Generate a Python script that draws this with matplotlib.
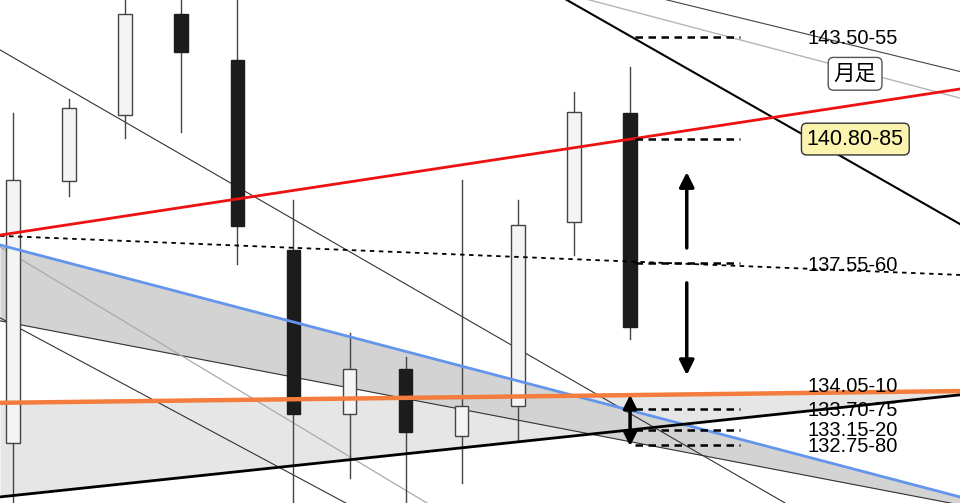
import matplotlib
matplotlib.use("Agg")
import matplotlib.pyplot as plt
import numpy as np

# monthly candles (index, open, high, low, close)
opens = [132.80, 139.71, 141.44, 144.11, 142.89, 137.89, 133.57, 134.75, 132.99, 133.78, 138.63, 141.50]
highs = [141.50, 141.87, 144.80, 144.80, 145.00, 139.20, 135.70, 135.07, 139.73, 139.20, 142.05, 142.71]
lows = [130.77, 139.31, 140.84, 141.00, 137.52, 130.50, 131.88, 131.00, 131.75, 132.88, 137.76, 135.54]
closes = [139.73, 141.63, 144.11, 143.10, 138.52, 133.57, 134.75, 133.09, 133.78, 138.55, 141.52, 135.86]

# trend lines: (x0, y0, x1, y1) in candle index / price
red_line = (-0.23, 138.28, 16.88, 142.13)
dotted_line = (-0.23, 138.26, 16.88, 137.23)
blue_line = (-0.23, 138.02, 16.88, 131.38)
orange_line = (-0.23, 133.86, 16.88, 134.17)
black_line = (-0.23, 131.38, 16.88, 134.07)
band_low_line = (-0.23, 136.02, 16.88, 131.17)
thin_a = (-0.23, 143.16, 16.88, 128.56)
thin_b = (-0.23, 136.10, 16.88, 122.55)
gray_c = (-0.23, 137.97, 16.88, 122.79)
thick_d = (-0.23, 152.99, 16.88, 138.57)
gray_e = (-0.23, 148.59, 16.88, 141.89)
thin_f = (-0.23, 148.77, 16.88, 142.59)

# price levels and labels
levels = [143.50, 140.80, 137.55, 133.70, 133.15, 132.75]
label_texts = ["143.50-55", "140.80-85", "137.55-60", "134.05-10", "133.70-75", "133.15-20", "132.75-80"]
label_y = [143.47, 140.81, 137.49, 134.28, 133.67, 133.14, 132.72]


def seg(line):
    x0, y0, x1, y1 = line
    return [x0, x1], [y0, y1]


fig = plt.figure(figsize=(9.6, 5.03), dpi=100)
ax = fig.add_axes([0, 0, 1, 1])
ax.set_xlim(-0.23, 16.88)
ax.set_ylim(131.22, 144.475)
ax.axis("off")

xs = np.array([-0.23, 16.88])
# shaded bands
ax.fill_between(xs, [orange_line[1], orange_line[3]], [black_line[1], black_line[3]],
                color="#e6e6e6", lw=0, zorder=1)
ax.fill_between(xs, [blue_line[1], blue_line[3]], [band_low_line[1], band_low_line[3]],
                color="#d3d3d3", lw=0, zorder=1.5)

# thin trend lines
ax.plot(*seg(band_low_line), color="#333333", lw=0.8, zorder=2)
ax.plot(*seg(thin_a), color="#333333", lw=0.8, zorder=2)
ax.plot(*seg(thin_b), color="#333333", lw=0.8, zorder=2)
ax.plot(*seg(gray_c), color="#aaaaaa", lw=0.9, zorder=2)
ax.plot(*seg(thick_d), color="black", lw=1.5, zorder=2)
ax.plot(*seg(gray_e), color="#b5b5b5", lw=1.0, zorder=2)
ax.plot(*seg(thin_f), color="#444444", lw=0.8, zorder=2)

# candles
w = 0.24
for i, (o, h, l, c) in enumerate(zip(opens, highs, lows, closes)):
    up = c >= o
    ax.plot([i, i], [l, h], color="#444444", lw=1.0, zorder=3)
    lo, hi = min(o, c), max(o, c)
    ax.add_patch(plt.Rectangle((i - w / 2, lo), w, hi - lo,
                               facecolor="#f4f4f4" if up else "#1c1c1c",
                               edgecolor="#444444" if up else "#1c1c1c",
                               lw=1.0, zorder=4))

# main lines
ax.plot(*seg(dotted_line), color="black", lw=1.3, ls=(0, (2.5, 2.5)), zorder=5)
ax.plot(*seg(blue_line), color="#6495ed", lw=2.0, zorder=5)
ax.plot(*seg(red_line), color="#ee1111", lw=2.0, zorder=6)
ax.plot(*seg(orange_line), color="#f47c3c", lw=3.2, zorder=6)
ax.plot(*seg(black_line), color="black", lw=2.0, zorder=6)

# short dashed levels
for lv in levels:
    ax.plot([11.09, 12.96], [lv, lv], color="black", lw=1.8, ls=(0, (3, 2.2)), zorder=6)

# arrows
ap = dict(arrowstyle="-|>", color="black", lw=2.5, mutation_scale=22, shrinkA=0, shrinkB=0)
ax.annotate("", xy=(12.01, 139.94), xytext=(12.01, 137.94), arrowprops=ap, zorder=7)
ax.annotate("", xy=(12.01, 134.59), xytext=(12.01, 137.02), arrowprops=ap, zorder=7)
ax.annotate("", xy=(11.0, 134.07), xytext=(11.0, 132.72),
            arrowprops=dict(arrowstyle="<|-|>", color="black", lw=2.5, mutation_scale=20,
                            shrinkA=0, shrinkB=0), zorder=7)

# labels
for t, y in zip(label_texts, label_y):
    if t == "140.80-85":
        ax.text(14.15, y, t, fontsize=15.5, family="Liberation Sans", va="center", ha="left",
                zorder=8, bbox=dict(boxstyle="round,pad=0.25", fc="#fbf4ae", ec="#333333", lw=1))
    else:
        ax.text(14.17, y, t, fontsize=14.5, family="Liberation Sans", va="center", ha="left",
                zorder=8)

ax.text(15.01, 142.53, "月足", fontsize=15.5, family=["Noto Sans CJK JP", "DejaVu Sans"],
        va="center", ha="center", zorder=8,
        bbox=dict(boxstyle="round,pad=0.25", fc="white", ec="#555555", lw=1))

fig.savefig("out.png", dpi=100)
